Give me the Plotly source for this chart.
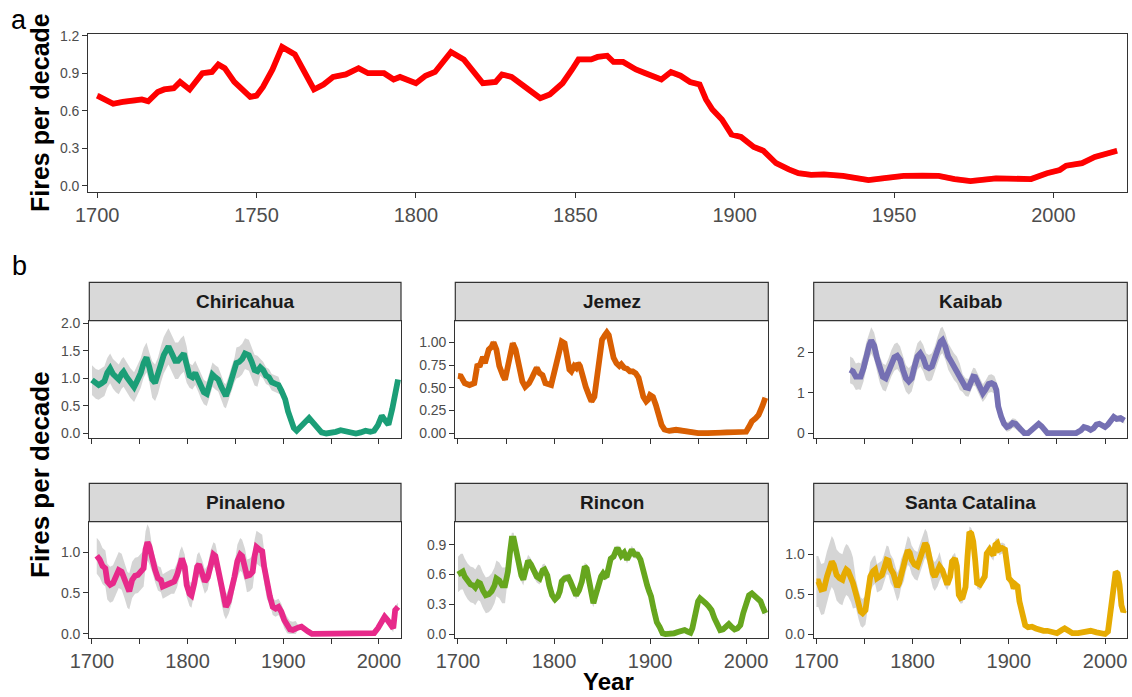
import plotly.graph_objects as go

W, H = 1132, 697
FONT = "Liberation Sans, Arial, sans-serif"

# ---------------- data (year, fires per decade) ----------------
all_sites = [(1700,0.72),(1705,0.655),(1708,0.67),(1712,0.68),(1714,0.69),(1716,0.675),(1719,0.75),(1721,0.77),
    (1724,0.78),(1726,0.83),(1729,0.77),(1733,0.90),(1736,0.91),(1738,0.97),(1740,0.94),(1743,0.83),(1748,0.71),
    (1750,0.72),(1752,0.79),(1755,0.93),(1758,1.11),(1762,1.05),(1765,0.91),(1768,0.77),(1771,0.81),(1774,0.87),
    (1778,0.89),(1782,0.94),(1785,0.90),(1790,0.90),(1793,0.85),(1795,0.87),(1800,0.82),(1803,0.88),(1806,0.91),
    (1808,0.98),(1811,1.07),(1815,1.01),(1818,0.91),(1821,0.82),(1825,0.83),(1827,0.89),(1830,0.87),(1833,0.81),
    (1836,0.75),(1839,0.70),(1842,0.73),(1846,0.82),(1849,0.93),(1851,1.01),(1855,1.01),(1857,1.03),(1860,1.04),
    (1862,0.99),(1865,0.99),(1869,0.93),(1872,0.90),(1877,0.85),(1880,0.91),(1883,0.88),(1886,0.83),(1889,0.81),
    (1891,0.69),(1893,0.61),(1896,0.53),(1899,0.41),(1902,0.39),(1906,0.31),(1909,0.28),(1913,0.18),(1917,0.13),
    (1920,0.10),(1924,0.086),(1928,0.09),(1934,0.078),(1938,0.06),(1942,0.045),(1947,0.06),(1953,0.078),
    (1959,0.08),(1964,0.078),(1969,0.053),(1974,0.037),(1982,0.059),(1988,0.053),(1993,0.053),(1998,0.10),
    (2002,0.126),(2004,0.16),(2009,0.18),(2013,0.23),(2020,0.28)]

chiricahua = [(1700,0.97),(1704,0.90),(1707,0.88),(1710,0.91),(1713,0.95),(1716,1.10),(1719,1.18),(1722,1.08),
    (1725,1.02),(1728,0.98),(1731,1.08),(1733,1.12),(1736,1.03),(1740,0.92),(1744,0.84),(1747,0.95),(1751,1.10),
    (1754,1.28),(1757,1.38),(1760,1.20),(1763,0.98),(1766,0.92),(1769,1.05),(1772,1.25),(1775,1.42),(1778,1.52),
    (1780,1.58),(1783,1.47),(1787,1.32),(1790,1.32),(1793,1.40),(1796,1.45),(1799,1.25),(1802,1.05),(1805,1.02),
    (1808,1.10),(1811,0.98),(1814,0.85),(1817,0.75),(1820,0.72),(1823,0.88),(1826,1.07),(1829,1.02),(1832,0.98),
    (1835,0.85),(1838,0.70),(1840,0.68),(1843,0.82),(1846,1.00),(1849,1.15),(1851,1.28),(1854,1.30),(1857,1.35),
    (1860,1.45),(1864,1.42),(1867,1.30),(1870,1.15),(1873,1.13),(1876,1.20),(1879,1.15),(1882,1.05),(1885,1.02),
    (1888,0.93),(1892,0.90),(1895,0.88),(1898,0.78),(1902,0.62),(1905,0.40),(1908,0.25),(1911,0.10),(1914,0.05),
    (1917,0.10),(1920,0.16),(1924,0.24),(1927,0.28),(1930,0.22),(1934,0.13),(1937,0.06),(1940,0.02),(1945,0.00),
    (1950,0.01),(1955,0.03),(1960,0.06),(1965,0.04),(1970,0.02),(1976,0.00),(1981,0.02),(1986,0.05),(1991,0.03),
    (1995,0.05),(1999,0.15),(2003,0.32),(2006,0.25),(2010,0.16),(2014,0.45),(2017,0.72),(2020,0.98)]

jemez = [(1700,0.63),(1703,0.625),(1707,0.55),(1712,0.53),(1717,0.55),(1720,0.74),(1723,0.75),(1726,0.84),
    (1728,0.77),(1732,0.92),(1735,0.95),(1737,1.00),(1740,0.92),(1743,0.74),(1747,0.63),(1749,0.59),(1752,0.74),
    (1755,0.92),(1757,0.99),(1760,0.92),(1764,0.70),(1767,0.57),(1770,0.51),(1774,0.55),(1777,0.61),(1780,0.70),
    (1782,0.72),(1785,0.66),(1788,0.64),(1791,0.55),(1794,0.54),(1797,0.53),(1800,0.66),(1804,0.81),(1806,0.92),
    (1808,1.01),(1811,0.99),(1813,0.86),(1816,0.70),(1818,0.68),(1821,0.74),(1823,0.72),(1825,0.77),(1827,0.74),
    (1830,0.61),(1833,0.51),(1837,0.40),(1839,0.35),(1842,0.40),(1845,0.63),(1848,0.92),(1850,1.03),(1853,1.08),
    (1855,1.11),(1857,1.08),(1859,0.96),(1862,0.83),(1865,0.77),(1868,0.74),(1870,0.76),(1873,0.72),(1876,0.71),
    (1879,0.68),(1882,0.68),(1885,0.66),(1888,0.61),(1890,0.50),(1893,0.40),(1896,0.35),(1898,0.37),(1900,0.42),
    (1903,0.40),(1906,0.31),(1909,0.18),(1912,0.09),(1915,0.04),(1920,0.026),(1927,0.037),(1934,0.026),
    (1942,0.01),(1950,0.0),(1960,0.0),(1970,0.0),(1980,0.015),(1990,0.01),(1996,0.0),(2000,0.015),(2003,0.07),
    (2006,0.13),(2010,0.165),(2013,0.20),(2017,0.30),(2020,0.39)]

kaibab = [(1735,1.57),(1738,1.53),(1741,1.40),(1744,1.42),(1746,1.40),(1749,1.61),(1752,1.94),(1755,2.19),
    (1757,2.30),(1760,2.17),(1763,1.86),(1766,1.57),(1769,1.40),(1772,1.36),(1775,1.53),(1778,1.74),(1781,1.88),
    (1784,1.92),(1787,1.82),(1790,1.57),(1793,1.36),(1796,1.28),(1799,1.36),(1802,1.65),(1805,1.90),(1808,1.98),
    (1811,1.86),(1814,1.65),(1817,1.61),(1820,1.65),(1823,1.82),(1826,2.07),(1829,2.27),(1831,2.31),(1834,2.15),
    (1837,1.90),(1840,1.78),(1843,1.65),(1846,1.57),(1849,1.40),(1852,1.24),(1855,1.14),(1858,1.12),(1860,1.24),
    (1863,1.40),(1865,1.39),(1868,1.24),(1871,1.07),(1873,0.99),(1876,1.09),(1879,1.22),(1882,1.24),(1885,1.20),
    (1887,1.07),(1889,0.66),(1892,0.41),(1895,0.23),(1898,0.15),(1901,0.18),(1904,0.25),(1907,0.23),(1910,0.15),
    (1913,0.07),(1916,0.0),(1920,0.0),(1924,0.08),(1928,0.17),(1931,0.23),(1934,0.17),(1937,0.07),(1940,0.0),
    (1950,0.0),(1960,0.0),(1970,0.0),(1975,0.07),(1978,0.15),(1982,0.12),(1985,0.08),(1988,0.12),(1991,0.21),
    (1994,0.23),(1997,0.17),(2000,0.15),(2003,0.21),(2006,0.33),(2009,0.40),(2012,0.35),(2016,0.37),(2020,0.31)]

pinaleno = [(1705,0.955),(1708,0.91),(1711,0.83),(1714,0.80),(1716,0.64),(1719,0.60),(1722,0.62),(1725,0.70),
    (1728,0.78),(1731,0.76),(1734,0.66),(1737,0.54),(1739,0.52),(1742,0.66),(1745,0.71),(1748,0.72),(1751,0.76),
    (1754,0.80),(1756,1.03),(1758,1.12),(1760,1.07),(1763,0.91),(1766,0.78),(1769,0.68),(1772,0.66),(1774,0.58),
    (1777,0.60),(1780,0.62),(1783,0.64),(1786,0.64),(1789,0.72),(1792,0.87),(1794,0.92),(1797,0.82),(1799,0.60),
    (1802,0.49),(1804,0.47),(1807,0.62),(1810,0.82),(1812,0.85),(1815,0.76),(1818,0.64),(1821,0.69),(1824,0.87),
    (1827,0.97),(1829,0.95),(1832,0.78),(1835,0.54),(1838,0.38),(1840,0.33),(1843,0.40),(1846,0.52),(1849,0.70),
    (1852,0.89),(1855,0.97),(1857,0.95),(1860,0.84),(1862,0.71),(1865,0.72),(1868,0.76),(1870,0.95),(1872,1.06),
    (1875,1.03),(1878,1.01),(1880,0.82),(1883,0.62),(1886,0.46),(1889,0.33),(1892,0.31),(1895,0.33),(1898,0.27),
    (1901,0.17),(1904,0.11),(1907,0.057),(1910,0.05),(1913,0.057),(1916,0.08),(1919,0.09),(1922,0.057),
    (1926,0.03),(1930,0.0),(1950,0.0),(1970,0.0),(1990,0.0),(1995,0.01),(1999,0.07),(2003,0.15),(2006,0.21),
    (2009,0.17),(2012,0.12),(2015,0.07),(2017,0.29),(2020,0.33)]

rincon = [(1700,0.60),(1703,0.63),(1705,0.63),(1707,0.58),(1710,0.53),(1713,0.50),(1716,0.49),(1718,0.47),
    (1721,0.52),(1723,0.51),(1726,0.44),(1729,0.39),(1732,0.40),(1735,0.43),(1738,0.49),(1740,0.56),(1743,0.54),
    (1746,0.49),(1749,0.49),(1752,0.63),(1754,0.81),(1756,0.96),(1758,0.96),(1760,0.85),(1763,0.71),(1766,0.59),
    (1768,0.55),(1771,0.68),(1773,0.74),(1776,0.70),(1779,0.63),(1782,0.58),(1785,0.56),(1788,0.64),(1790,0.65),
    (1793,0.59),(1795,0.49),(1798,0.39),(1801,0.35),(1804,0.38),(1806,0.43),(1808,0.53),(1811,0.56),(1815,0.57),
    (1817,0.53),(1820,0.44),(1823,0.39),(1826,0.44),(1829,0.53),(1832,0.68),(1834,0.66),(1837,0.51),(1839,0.36),
    (1841,0.31),(1843,0.38),(1846,0.49),(1849,0.58),(1851,0.61),(1853,0.58),(1855,0.59),(1857,0.70),(1859,0.76),
    (1862,0.78),(1865,0.85),(1867,0.85),(1870,0.79),(1873,0.82),(1876,0.75),(1878,0.79),(1881,0.85),(1884,0.80),
    (1887,0.80),(1890,0.75),(1893,0.61),(1895,0.58),(1897,0.49),(1899,0.43),(1901,0.38),(1904,0.24),(1907,0.12),
    (1910,0.07),(1913,0.007),(1916,0.0),(1920,0.0),(1925,0.007),(1929,0.02),(1933,0.034),(1936,0.04),
    (1939,0.024),(1942,0.013),(1944,0.057),(1947,0.21),(1950,0.33),(1952,0.36),(1955,0.34),(1958,0.31),
    (1961,0.28),(1964,0.24),(1967,0.16),(1970,0.09),(1973,0.04),(1976,0.047),(1979,0.08),(1982,0.10),(1985,0.07),
    (1988,0.047),(1991,0.057),(1994,0.09),(1997,0.21),(2000,0.31),(2003,0.39),(2006,0.41),(2009,0.38),
    (2012,0.36),(2015,0.33),(2017,0.28),(2020,0.21)]

santa_catalina = [(1700,0.66),(1702,0.66),(1705,0.56),(1708,0.57),(1711,0.72),(1714,0.85),(1716,0.91),
    (1718,0.87),(1721,0.74),(1724,0.70),(1727,0.68),(1729,0.76),(1731,0.81),(1733,0.79),(1736,0.72),(1738,0.64),
    (1741,0.51),(1744,0.36),(1746,0.28),(1748,0.26),(1751,0.30),(1753,0.47),(1756,0.72),(1759,0.79),(1761,0.81),
    (1763,0.70),(1766,0.72),(1768,0.74),(1770,0.81),(1773,0.93),(1775,0.92),(1777,0.82),(1780,0.76),(1782,0.68),
    (1784,0.59),(1786,0.64),(1788,0.76),(1791,0.85),(1793,0.97),(1795,1.05),(1797,1.02),(1799,0.93),(1802,0.87),
    (1805,0.85),(1807,0.93),(1810,1.03),(1813,1.14),(1815,1.10),(1818,0.91),(1821,0.76),(1823,0.72),(1826,0.78),
    (1828,0.85),(1831,0.80),(1834,0.66),(1836,0.62),(1839,0.72),(1841,0.91),(1844,0.95),(1846,0.85),(1848,0.49),
    (1850,0.45),(1852,0.46),(1855,0.59),(1857,0.97),(1859,1.28),(1861,1.26),(1863,1.16),(1865,0.93),(1867,0.64),
    (1870,0.62),(1873,0.70),(1875,0.72),(1877,1.01),(1880,1.06),(1882,1.02),(1884,0.99),(1886,1.12),(1888,1.14),
    (1890,1.06),(1893,1.08),(1896,1.06),(1898,0.85),(1900,0.70),(1903,0.66),(1905,0.57),(1907,0.62),(1909,0.60),
    (1911,0.41),(1914,0.22),(1917,0.11),(1920,0.084),(1924,0.092),(1928,0.07),(1932,0.05),(1936,0.04),
    (1940,0.04),(1945,0.03),(1950,0.01),(1955,0.05),(1958,0.07),(1962,0.04),(1966,0.01),(1972,0.01),(1978,0.02),
    (1985,0.04),(1991,0.02),(1997,0.01),(2000,0.0),(2003,0.03),(2006,0.34),(2009,0.68),(2011,0.78),(2013,0.76),
    (2015,0.62),(2017,0.36),(2019,0.28),(2020,0.30)]

# uncertainty half-widths, read from the grey ribbons: (applies until year, half-width)
ci_all = [(2020, 0.022)]
ci_chiricahua = [(1760, 0.27), (1800, 0.33), (1850, 0.22), (1875, 0.28), (1895, 0.15), (1910, 0.08), (2020, 0.03)]
ci_jemez = [(2020, 0.03)]
ci_kaibab = [(1850, 0.33), (1890, 0.22), (1915, 0.12), (2000, 0.04), (2020, 0.08)]
ci_pinaleno = [(1760, 0.22), (1850, 0.15), (1885, 0.20), (1915, 0.10), (1995, 0.02), (2020, 0.05)]
ci_rincon = [(1750, 0.18), (1800, 0.06), (1900, 0.04), (2020, 0.03)]
ci_santa_catalina = [(1740, 0.32), (1830, 0.18), (1900, 0.07), (2020, 0.02)]

site_names = ["Chiricahua", "Jemez", "Kaibab", "Pinaleno", "Rincon", "Santa Catalina"]
site_series = [chiricahua, jemez, kaibab, pinaleno, rincon, santa_catalina]
site_ci = [ci_chiricahua, ci_jemez, ci_kaibab, ci_pinaleno, ci_rincon, ci_santa_catalina]
site_colors = ["#1B9E77", "#D95F02", "#7570B3", "#E7298A", "#66A61E", "#E6AB02"]
site_yranges = [[-0.073, 2.047], [-0.048, 1.239], [-0.11, 2.79], [-0.053, 1.37], [-0.043, 1.132], [-0.054, 1.41]]
site_yticks = [[0, 0.5, 1, 1.5, 2], [0, 0.25, 0.5, 0.75, 1], [0, 1, 2], [0, 0.5, 1], [0, 0.3, 0.6, 0.9], [0, 0.5, 1]]
site_yticktext = [["0.0", "0.5", "1.0", "1.5", "2.0"], ["0.00", "0.25", "0.50", "0.75", "1.00"], ["0", "1", "2"],
                  ["0.0", "0.5", "1.0"], ["0.0", "0.3", "0.6", "0.9"], ["0.0", "0.5", "1.0"]]

top_yticks = [0, 0.3, 0.6, 0.9, 1.2]
top_yticktext = ["0.0", "0.3", "0.6", "0.9", "1.2"]
xtick_vals = [1700, 1750, 1800, 1850, 1900, 1950, 2000]
top_xticktext = ["1700", "1750", "1800", "1850", "1900", "1950", "2000"]
facet_xticktext = ["1700", "", "1800", "", "1900", "", "2000"]
XRANGE = [1697.2, 2023.1]

# ---------------- layout geometry (pixels) ----------------
def fx(p):
    return p / W

def fy(p):
    return 1 - p / H

TOP = dict(l=88.3, r=1127, t=34, b=191.7)
COLS = [(89.3, 401.0), (455.3, 768.3), (813.7, 1127.3)]
ROWS = [(282.3, 320.7, 437.5), (483.3, 521.7, 638.3)]  # strip top, plot top, plot bottom

LINE_COL = "#333333"
TICK_FONT_Y = dict(family=FONT, size=14, color="#4D4D4D")
TICK_FONT_X = dict(family=FONT, size=20, color="#4D4D4D")
RIBBON = "rgba(185,185,185,0.6)"

fig = go.Figure()

def band(series, ci):
    xs = [p[0] for p in series]
    ys = [p[1] for p in series]
    hw = []
    for yr in xs:
        w = ci[-1][1]
        for until, width in ci:
            if yr <= until:
                w = width
                break
        hw.append(w)
    hi = [y + w for y, w in zip(ys, hw)]
    lo = [max(0.0, y - w) for y, w in zip(ys, hw)]
    return xs, ys, hi, lo

def add_series(series, ci, color, xa, ya, lw):
    xs, ys, hi, lo = band(series, ci)
    fig.add_trace(go.Scatter(x=xs + xs[::-1], y=hi + lo[::-1], fill="toself", fillcolor=RIBBON,
                             line=dict(width=0), mode="lines", hoverinfo="skip", showlegend=False,
                             xaxis=xa, yaxis=ya))
    fig.add_trace(go.Scatter(x=xs, y=ys, mode="lines", line=dict(color=color, width=lw),
                             showlegend=False, xaxis=xa, yaxis=ya))

common_axis = dict(showgrid=False, zeroline=False, showline=True, mirror=True, linecolor=LINE_COL,
                   linewidth=1.2, ticks="outside", ticklen=5, tickwidth=1.4, tickcolor=LINE_COL,
                   automargin=False, fixedrange=True)

layout = dict(width=W, height=H, autosize=False, margin=dict(l=0, r=0, t=0, b=0, autoexpand=False),
              paper_bgcolor="white", plot_bgcolor="white", showlegend=False)

# top panel
add_series(all_sites, ci_all, "#FF0000", "x", "y", 5.8)
layout["xaxis"] = dict(common_axis, domain=[fx(TOP["l"]), fx(TOP["r"])], range=XRANGE, anchor="y",
                       tickmode="array", tickvals=xtick_vals, ticktext=top_xticktext, tickfont=TICK_FONT_X)
layout["yaxis"] = dict(common_axis, domain=[fy(TOP["b"]), fy(TOP["t"])], range=[-0.048, 1.2136], anchor="x",
                       tickmode="array", tickvals=top_yticks, ticktext=top_yticktext, tickfont=TICK_FONT_Y)

shapes = []
annotations = []
for i, name in enumerate(site_names):
    r, c = divmod(i, 3)
    n = i + 2
    xa, ya = f"x{n}", f"y{n}"
    add_series(site_series[i], site_ci[i], site_colors[i], xa, ya, 5.8)
    l, rr = COLS[c]
    st, pt, pb = ROWS[r]
    layout[f"xaxis{n}"] = dict(common_axis, domain=[fx(l), fx(rr)], range=XRANGE, anchor=ya,
                               tickmode="array", tickvals=xtick_vals,
                               ticktext=facet_xticktext if r == 1 else [""] * 7, tickfont=TICK_FONT_X)
    layout[f"yaxis{n}"] = dict(common_axis, domain=[fy(pb), fy(pt)], range=site_yranges[i], anchor=xa,
                               tickmode="array", tickvals=site_yticks[i], ticktext=site_yticktext[i],
                               tickfont=TICK_FONT_Y)
    shapes.append(dict(type="rect", xref="paper", yref="paper", x0=fx(l), x1=fx(rr), y0=fy(pt), y1=fy(st),
                       fillcolor="#D9D9D9", line=dict(color=LINE_COL, width=1.2), layer="above"))
    annotations.append(dict(xref="paper", yref="paper", x=fx((l + rr) / 2), y=fy((st + pt) / 2),
                            text=f"<b>{name}</b>", showarrow=False, xanchor="center", yanchor="middle",
                            font=dict(family=FONT, size=19, color="#1A1A1A")))

# titles and panel letters
annotations += [
    dict(xref="paper", yref="paper", x=fx(40), y=fy(113), text="<b>Fires per decade</b>", textangle=-90,
         showarrow=False, xanchor="center", yanchor="middle", font=dict(family=FONT, size=25, color="black")),
    dict(xref="paper", yref="paper", x=fx(40), y=fy(475), text="<b>Fires per decade</b>", textangle=-90,
         showarrow=False, xanchor="center", yanchor="middle", font=dict(family=FONT, size=26, color="black")),
    dict(xref="paper", yref="paper", x=fx(608), y=0, text="<b>Year</b>", showarrow=False,
         xanchor="center", yanchor="bottom", font=dict(family=FONT, size=24, color="black")),
    dict(xref="paper", yref="paper", x=fx(19), y=fy(20), text="a", showarrow=False,
         xanchor="center", yanchor="middle", font=dict(family=FONT, size=27, color="black")),
    dict(xref="paper", yref="paper", x=fx(19), y=fy(266), text="b", showarrow=False,
         xanchor="center", yanchor="middle", font=dict(family=FONT, size=27, color="black")),
]
layout["shapes"] = shapes
layout["annotations"] = annotations
fig.update_layout(**layout)
fig.write_html("out.html", config={"displayModeBar": False},
               post_script="document.body.style.margin='0';document.body.style.overflow='hidden';")
